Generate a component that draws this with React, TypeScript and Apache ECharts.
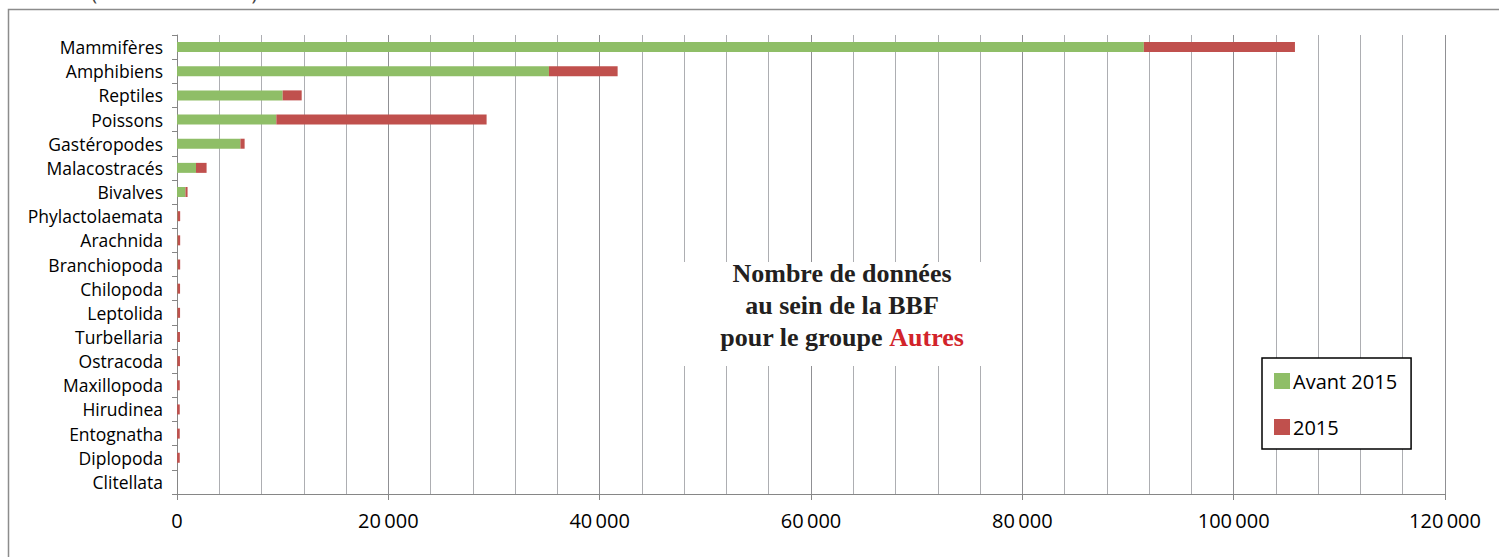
import React, { useEffect, useRef } from "react";
import * as echarts from "echarts";

const categories = [
  "Mammifères", "Amphibiens", "Reptiles", "Poissons", "Gastéropodes", "Malacostracés",
  "Bivalves", "Phylactolaemata", "Arachnida", "Branchiopoda", "Chilopoda", "Leptolida",
  "Turbellaria", "Ostracoda", "Maxillopoda", "Hirudinea", "Entognatha", "Diplopoda", "Clitellata",
];
const avant2015 = [91500, 35200, 10000, 9400, 6000, 1800, 800, 50, 50, 50, 40, 40, 30, 30, 10, 10, 10, 10, 0];
const an2015 = [14300, 6500, 1800, 19900, 400, 1000, 200, 250, 250, 250, 250, 250, 250, 250, 250, 250, 250, 250, 0];
const seriesNames = ["Avant 2015", "2015"];
const titleLines = ["Nombre de données", "au sein de la BBF", "pour le groupe "];
const titleHighlight = "Autres";
const topText = "Autres (détail ci-dessous).";

const fmt = (v: number) => String(v).replace(/\B(?=(\d{3})+(?!\d))/g, "\u2009");

export default function App() {
  const ref = useRef<HTMLDivElement>(null);
  useEffect(() => {
    if (!ref.current) return;
    const chart = echarts.init(ref.current, undefined, { renderer: "svg" });
    const serif = "'Liberation Serif', 'Times New Roman', serif";
    chart.setOption({
      animation: false,
      backgroundColor: "#fff",
      textStyle: { fontFamily: "'Open Sans', sans-serif" },
      grid: { left: 177, right: 54, top: 35, bottom: 63, containLabel: false },
      xAxis: {
        type: "value",
        min: 0,
        max: 120000,
        interval: 20000,
        splitNumber: 6,
        axisLine: { show: true, lineStyle: { color: "#868686", width: 1 } },
        axisTick: { show: true, length: 6, lineStyle: { color: "#868686" } },
        axisLabel: { color: "#000", fontSize: 20, margin: 16, formatter: (v: number) => fmt(v) },
        splitLine: { show: true, lineStyle: { color: "#909094", width: 1 } },
        minorTick: { show: false, splitNumber: 5 },
        minorSplitLine: { show: true, lineStyle: { color: "#adaeb2", width: 1 } },
      },
      yAxis: {
        type: "category",
        data: categories,
        inverse: true,
        axisLine: { show: true, lineStyle: { color: "#868686", width: 1 } },
        axisTick: { show: true, length: 5, interval: 0, lineStyle: { color: "#868686" } },
        axisLabel: { color: "#000", fontSize: 17.5, margin: 14, interval: 0 },
        splitLine: { show: false },
      },
      legend: {
        orient: "vertical",
        left: 1262,
        top: 358,
        width: 149,
        padding: [13, 14, 12, 12],
        itemGap: 26,
        itemWidth: 16,
        itemHeight: 16,
        borderColor: "#000",
        borderWidth: 1.5,
        backgroundColor: "#fff",
        icon: "rect",
        textStyle: { color: "#000", fontSize: 20, padding: [0, 0, 0, -2] },
        data: seriesNames,
      },
      series: [
        {
          name: seriesNames[0],
          type: "bar",
          stack: "total",
          data: avant2015,
          barWidth: 10,
          itemStyle: { color: "#8fbe67" },
        },
        {
          name: seriesNames[1],
          type: "bar",
          stack: "total",
          data: an2015,
          barWidth: 10,
          itemStyle: { color: "#c0504d" },
        },
      ],
      graphic: [
        {
          type: "rect",
          z: 100,
          shape: { x: 8.5, y: 9.5, width: 1700, height: 800 },
          style: { fill: "none", stroke: "#8c8c8c", lineWidth: 1.5 },
          silent: true,
        },
        {
          type: "text",
          z: 100,
          x: 25,
          y: 2,
          style: {
            text: topText,
            font: "20px 'Open Sans', sans-serif",
            fill: "#444",
            verticalAlign: "bottom",
          },
          silent: true,
        },
        {
          type: "rect",
          z: 100,
          shape: { x: 651, y: 262, width: 360, height: 104 },
          style: { fill: "#fff" },
          silent: true,
        },
        {
          type: "text",
          z: 101,
          x: 842,
          y: 273,
          style: { text: titleLines[0], font: `bold 26px ${serif}`, fill: "#231f20", align: "center", verticalAlign: "middle" },
        },
        {
          type: "text",
          z: 101,
          x: 842,
          y: 305,
          style: { text: titleLines[1], font: `bold 26px ${serif}`, fill: "#231f20", align: "center", verticalAlign: "middle" },
        },
        {
          type: "text",
          z: 101,
          x: 842,
          y: 337,
          style: {
            text: `{b|${titleLines[2]}}{r|${titleHighlight}}`,
            align: "center",
            verticalAlign: "middle",
            rich: {
              b: { font: `bold 26px ${serif}`, fill: "#231f20", color: "#231f20" },
              r: { font: `bold 26px ${serif}`, fill: "#d2232a", color: "#d2232a" },
            },
          },
        },
      ],
    });
    return () => chart.dispose();
  }, []);
  return (
    <div
      ref={ref}
      style={{ position: "absolute", left: 0, top: 0, width: 1499, height: 557 }}
    />
  );
}
